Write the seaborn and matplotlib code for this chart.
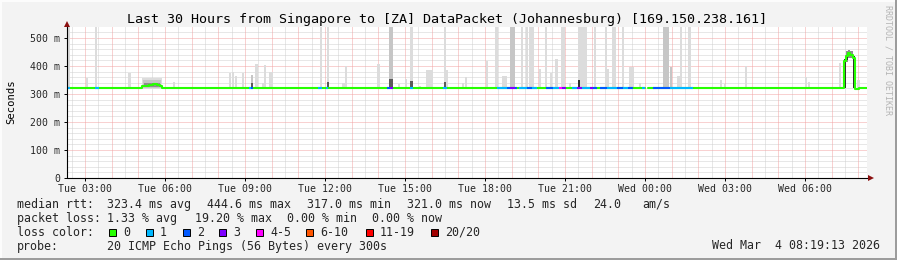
import numpy as np
import pandas as pd
import matplotlib
matplotlib.use("Agg")
import matplotlib.pyplot as plt
import seaborn as sns
from matplotlib.patches import Rectangle

# ---------------- data (time = hours since Tue 00:00, values in ms) ----------------
x_start, x_end = 2.32, 32.32
step_h = 5.0 / 60.0

tick_hours = [3, 6, 9, 12, 15, 18, 21, 24, 27, 30]
tick_labels = ["Tue 03:00", "Tue 06:00", "Tue 09:00", "Tue 12:00", "Tue 15:00",
               "Tue 18:00", "Tue 21:00", "Wed 00:00", "Wed 03:00", "Wed 06:00"]
y_ticks = [0, 100, 200, 300, 400, 500]
y_tick_labels = ["0", "100 m", "200 m", "300 m", "400 m", "500 m"]

# median rtt (step series), split around the data gap
median_a_t = [2.32, 5.12, 5.40, 5.55, 5.70, 5.80, 5.87, 23.99]
median_a_v = [323, 330, 333, 337, 333, 328, 323, 323]
median_b_t = [24.11, 31.45, 31.53, 31.61, 31.70, 31.78, 31.86, 31.95, 32.03, 32.32]
median_b_v = [323, 418, 435, 445, 441, 428, 318, 317, 321, 321]

# packet-loss colouring of the median (start, end, loss class index)
loss_start = [2.31, 3.37, 9.15, 9.23, 11.73, 12.02, 14.32, 14.43, 15.18, 16.41,
              18.43, 18.81, 18.93, 19.12, 19.27, 19.57, 19.76, 20.28, 20.54, 20.77,
              20.88, 21.26, 21.44, 21.63, 21.93, 22.04, 22.31, 22.57, 22.94, 23.17,
              23.36, 23.88, 24.29, 24.93]
loss_end = [2.43, 3.52, 9.23, 9.30, 11.88, 12.11, 14.43, 14.55, 15.30, 16.56,
            18.81, 18.93, 19.12, 19.19, 19.57, 19.76, 19.94, 20.54, 20.77, 20.88,
            21.03, 21.44, 21.63, 21.93, 22.04, 22.19, 22.57, 22.94, 23.17, 23.36,
            23.54, 23.99, 24.93, 25.79]
loss_level = [1, 1, 1, 2, 1, 1, 2, 3, 1, 1,
              1, 2, 3, 2, 1, 2, 1, 2, 1, 4,
              3, 1, 3, 1, 3, 2, 2, 1, 2, 1,
              2, 1, 2, 1]

loss_names = ["0", "1", "2", "3", "4-5", "6-10", "11-19", "20/20"]
loss_colors = ["#26ff00", "#00b8ff", "#0059ff", "#7e00ff", "#ff00ff",
               "#ff5500", "#ff0000", "#a10000"]

# smoke (ping spread): centre time, width in steps, low, high, tone
smoke_t = [2.40, 3.08, 3.41, 4.66, 5.495, 5.50, 5.50, 6.34, 8.43, 8.54, 8.66, 8.91,
           9.25, 9.25, 9.43, 9.69, 9.74, 9.97, 11.84, 12.10, 12.10, 12.70, 12.78, 14.00,
           14.47, 14.47, 14.77, 15.02, 15.24, 15.24, 15.56, 15.91, 16.49, 16.49, 16.58,
           17.17, 17.28, 18.08, 18.43, 18.73, 19.02, 19.37, 19.56, 19.74, 20.06, 20.28,
           20.47, 20.68, 20.93, 21.18, 21.65, 21.52, 22.12, 22.52, 22.61, 22.84, 23.18,
           23.49, 23.81, 24.78, 24.96, 25.25, 25.34, 25.66, 26.84, 26.99, 27.78, 30.02,
           30.14, 31.31, 31.49, 31.57, 31.57, 31.65, 31.74, 31.82, 32.00]
smoke_w = [1, 1, 1, 1, 9, 8, 7, 1, 1, 1, 1, 1,
           1, 1, 1, 1, 1, 2, 1, 1, 1, 2, 1, 1,
           2, 2, 1, 1, 1, 1, 1, 3, 1, 1, 1,
           1, 1, 1, 1, 2, 2, 1, 1, 2, 1, 1,
           1, 1, 2, 1, 4, 1, 1, 1, 1, 2, 1,
           2, 1, 3, 1, 1, 1, 1, 1, 1, 1, 1,
           1, 1, 1, 1, 1, 1, 1, 1, 1]
smoke_lo = [318, 318, 318, 318, 318, 321, 325, 318, 318, 318, 318, 318,
            318, 318, 318, 318, 318, 318, 318, 318, 318, 318, 318, 318,
            318, 318, 318, 318, 318, 318, 318, 318, 318, 318, 318,
            318, 318, 318, 318, 318, 318, 318, 318, 318, 318, 318,
            318, 318, 318, 318, 318, 318, 318, 318, 318, 318, 318,
            318, 318, 318, 318, 318, 318, 318, 318, 318, 318, 318,
            318, 318, 323, 415, 420, 430, 428, 320, 318]
smoke_hi = [540, 357, 540, 374, 357, 349, 341, 343, 375, 380, 365, 376,
            368, 340, 407, 340, 403, 380, 540, 540, 344, 339, 400, 407,
            540, 353, 336, 352, 540, 346, 330, 386, 540, 344, 386,
            340, 362, 419, 540, 364, 540, 540, 540, 540, 389, 540,
            375, 425, 540, 340, 540, 350, 540, 540, 389, 540, 540,
            398, 340, 540, 398, 364, 540, 540, 350, 336, 400, 361,
            343, 410, 425, 455, 440, 457, 455, 437, 350]
smoke_tone = [0, 0, 0, 0, 0, 1, 2, 0, 0, 0, 0, 0,
              1, 3, 0, 0, 0, 0, 0, 0, 3, 0, 0, 0,
              1, 3, 0, 0, 0, 3, 0, 0, 0, 3, 0,
              0, 0, 0, 0, 0, 1, 0, 0, 0, 0, 0,
              0, 0, 0, 0, 0, 4, 0, 0, 0, 0, 0,
              0, 0, 1, 1, 0, 0, 0, 0, 0, 0, 0,
              0, 0, 4, 2, 4, 2, 2, 4, 0]
tone_colors = ["#dcdcdc", "#c6c6c6", "#8e8e8e", "#5a5a5a", "#303030"]

legend_line1 = [("median rtt:", 16.7), ("323.4 ms avg", 107.3), ("444.6 ms max", 206.7),
                ("317.0 ms min", 306.7), ("321.0 ms now", 406.7), ("13.5 ms sd", 507.3),
                ("24.0", 593.3), ("am/s", 642.7)]
legend_line2 = [("packet loss:", 16.7), ("1.33 % avg", 107.3), ("19.20 % max", 194.5),
                ("0.00 % min", 286.7), ("0.00 % now", 372.3)]
loss_box_x = [109, 145.7, 182.7, 219.3, 256, 306, 366, 430.7]
probe_text = "20 ICMP Echo Pings (56 Bytes) every 300s"
date_text = "Wed Mar  4 08:19:13 2026"
title = "Last 30 Hours from Singapore to [ZA] DataPacket (Johannesburg) [169.150.238.161]"

# ---------------- figure ----------------
sns.set_style("white")
MONO = ["DejaVu Sans Mono"]
plt.rcParams["font.family"] = MONO

W, H = 897, 260
fig = plt.figure(figsize=(W / 100, H / 100), dpi=100, facecolor="#f3f3f3")


def fx(x):
    return x / W


def fy(y):
    return 1 - y / H


ax = fig.add_axes([fx(67), fy(178), 800 / W, 151 / H])
ax.set_facecolor("white")
ax.set_xlim(x_start, x_end)
ax.set_ylim(0, 151 / 0.28)
for s in ax.spines.values():
    s.set_visible(False)

# grid (1px dotted lines)
px_lw = 0.72
dots = (0, (1, 1))
minor_x = [h + 0.5 for h in range(2, 33) if x_start < h + 0.5 < x_end]
major_x = [h for h in range(3, 33) if x_start < h < x_end]
minor_y = [v for v in range(20, 540, 20) if v % 100 != 0]
major_y = [100, 200, 300, 400, 500]
grid_kw = dict(linestyles=dots, lw=px_lw)
ax.vlines(minor_x, 0, 540, colors="#d0d0d0", zorder=0.5, **grid_kw)
ax.hlines(minor_y, x_start, x_end, colors="#d0d0d0", zorder=0.5, **grid_kw)
ax.vlines(major_x, 0, 540, colors="#f2a4a4", zorder=0.6, **grid_kw)
ax.hlines(major_y, x_start, x_end, colors="#f2a4a4", zorder=0.6, **grid_kw)

# smoke
smoke = pd.DataFrame({"t": smoke_t, "w": smoke_w, "lo": smoke_lo, "hi": smoke_hi, "tone": smoke_tone})
for tone in sorted(smoke["tone"].unique()):
    d = smoke[smoke["tone"] == tone]
    ax.bar(d["t"], d["hi"] - d["lo"], bottom=d["lo"], width=d["w"] * step_h,
           color=tone_colors[tone], linewidth=0, align="center", zorder=1 + tone * 0.1)

# median line
lw_med = 1.5
for mt, mv in [(median_a_t, median_a_v), (median_b_t, median_b_v)]:
    dfm = pd.DataFrame({"t": mt, "v": mv})
    sns.lineplot(data=dfm, x="t", y="v", ax=ax, drawstyle="steps-post", color=loss_colors[0],
                 linewidth=lw_med, estimator=None, sort=False, legend=False, zorder=3)
ax.hlines([323] * len(loss_start), loss_start, loss_end,
          colors=[loss_colors[i] for i in loss_level], lw=lw_med, zorder=4)

# axes decorations
ax.set_xticks(tick_hours)
ax.set_xticklabels(tick_labels, fontsize=7.1, fontfamily=MONO)
ax.set_yticks(y_ticks)
ax.set_yticklabels(y_tick_labels, fontsize=7.1, fontfamily=MONO)
ax.tick_params(axis="x", length=2.2, width=0.7, pad=1.8, color="black", bottom=True)
ax.tick_params(axis="y", length=2.2, width=0.7, pad=2.6, color="black", left=True)
ax.set_xlabel("")
ax.set_ylabel("")

ax.plot([x_start, x_start], [0, 548], color="black", lw=0.8, clip_on=False, zorder=6)
ax.plot([x_start, 32.45], [0, 0], color="black", lw=0.8, clip_on=False, zorder=6)
ax.plot([x_start], [551], marker="^", ms=4.2, color="#8b1010", clip_on=False, zorder=7, mew=0)
ax.plot([32.47], [0], marker=">", ms=4.2, color="#8b1010", clip_on=False, zorder=7, mew=0)

# texts
fig.text(fx(447), fy(19), title, ha="center", va="center", fontsize=9.6, family=MONO, color="black")
fig.text(fx(11), fy(102), "Seconds", rotation=90, ha="center", va="center", fontsize=7.6,
         family=MONO, color="black")
fig.text(fx(888), fy(60), "RRDTOOL / TOBI OETIKER", rotation=270, ha="center", va="center",
         fontsize=6.0, family=MONO, color="#b4b4b4")

LFS = 8.35
for txt, x in legend_line1:
    fig.text(fx(x), fy(204.3), txt, ha="left", va="center", fontsize=LFS, family=MONO)
for txt, x in legend_line2:
    fig.text(fx(x), fy(218.3), txt, ha="left", va="center", fontsize=LFS, family=MONO)
fig.text(fx(16.7), fy(232.3), "loss color:", ha="left", va="center", fontsize=LFS, family=MONO)
for name, col, bx in zip(loss_names, loss_colors, loss_box_x):
    fig.patches.append(Rectangle((fx(bx), fy(235.5)), 7 / W, 7 / H, transform=fig.transFigure,
                                 facecolor=col, edgecolor="black", linewidth=0.7))
    fig.text(fx(bx + 14), fy(232.3), name, ha="left", va="center", fontsize=LFS, family=MONO)
fig.text(fx(16.7), fy(246.3), "probe:", ha="left", va="center", fontsize=LFS, family=MONO)
fig.text(fx(107.3), fy(246.3), probe_text, ha="left", va="center", fontsize=LFS, family=MONO)
fig.text(fx(880), fy(245.7), date_text, ha="right", va="center", fontsize=LFS, family=MONO)

# rrdtool style frame
fig.patches.append(Rectangle((0, 0), 1, 2 / H, transform=fig.transFigure, facecolor="#9c9c9c", lw=0))
fig.patches.append(Rectangle((1 - 2 / W, 0), 2 / W, 1, transform=fig.transFigure, facecolor="#9c9c9c", lw=0))
fig.patches.append(Rectangle((0, 1 - 2 / H), 1 - 2 / W, 2 / H, transform=fig.transFigure, facecolor="#fcfcfc", lw=0))
fig.patches.append(Rectangle((0, 2 / H), 2 / W, 1 - 2 / H, transform=fig.transFigure, facecolor="#fcfcfc", lw=0))

fig.savefig("out.png", dpi=100, facecolor=fig.get_facecolor())
